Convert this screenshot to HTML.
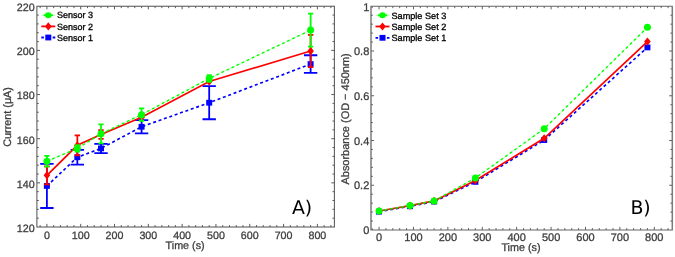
<!DOCTYPE html>
<html><head><meta charset="utf-8"><title>Sensor current and absorbance vs time</title>
<style>
html,body{margin:0;padding:0;background:#fff;}
body{width:675px;height:257px;overflow:hidden;}
svg{display:block;will-change:transform;}
text{font-family:"Liberation Sans",sans-serif;text-rendering:geometricPrecision;}
.t{fill:#3c3c3c;stroke:#3c3c3c;stroke-width:0.28px;}
.big{font-family:"DejaVu Sans",sans-serif;}
</style></head><body>
<svg width="675" height="257" viewBox="0 0 675 257">
<rect width="675" height="257" fill="#fff"/>
<g id="plotA">
<polyline points="46.9,185.94 77.33,157.24 101,148.41 141.57,126.78 209.19,102.72 310.62,64.09" fill="none" stroke="#0000ff" stroke-width="1.65" stroke-dasharray="3 2.7"/>
<path d="M46.9 163.87V208.02M40.2 163.87h13.4M40.2 208.02h13.4M77.33 149.96V164.53M70.63 149.96h13.4M70.63 164.53h13.4M101 143.78V153.05M94.3 143.78h13.4M94.3 153.05h13.4M141.57 120.16V133.4M134.87 120.16h13.4M134.87 133.4h13.4M209.19 86.16V119.27M202.49 86.16h13.4M202.49 119.27h13.4M310.62 55.26V72.92M303.92 55.26h13.4M303.92 72.92h13.4" fill="none" stroke="#0000ff" stroke-width="1.8"/>
<rect x="43.9" y="183.04" width="6" height="5.8" fill="#0000ff"/>
<rect x="74.33" y="154.34" width="6" height="5.8" fill="#0000ff"/>
<rect x="98" y="145.51" width="6" height="5.8" fill="#0000ff"/>
<rect x="138.57" y="123.88" width="6" height="5.8" fill="#0000ff"/>
<rect x="206.19" y="99.82" width="6" height="5.8" fill="#0000ff"/>
<rect x="307.62" y="61.19" width="6" height="5.8" fill="#0000ff"/>
<polyline points="46.9,175.34 77.33,145.32 101,134.51 141.57,117.29 209.19,81.53 310.62,51.06" fill="none" stroke="#ff0000" stroke-width="1.7"/>
<path d="M46.9 166.29V184.4M44.2 166.29h5.4M44.2 184.4h5.4M77.33 135.39V155.26M74.63 135.39h5.4M74.63 155.26h5.4M101 130.09V138.92M98.3 130.09h5.4M98.3 138.92h5.4M310.62 34.95V67.18M307.92 34.95h5.4M307.92 67.18h5.4" fill="none" stroke="#ff0000" stroke-width="1.8"/>
<path d="M46.9 171.24L50.2 175.34L46.9 179.44L43.6 175.34Z" fill="#ff0000"/>
<path d="M77.33 141.22L80.63 145.32L77.33 149.42L74.03 145.32Z" fill="#ff0000"/>
<path d="M101 130.41L104.3 134.51L101 138.61L97.7 134.51Z" fill="#ff0000"/>
<path d="M141.57 113.19L144.87 117.29L141.57 121.39L138.27 117.29Z" fill="#ff0000"/>
<path d="M209.19 77.43L212.49 81.53L209.19 85.63L205.89 81.53Z" fill="#ff0000"/>
<path d="M310.62 46.96L313.92 51.06L310.62 55.16L307.32 51.06Z" fill="#ff0000"/>
<polyline points="46.9,161.22 77.33,148.41 101,133.84 141.57,114.64 209.19,78.44 310.62,30.09" fill="none" stroke="#00ff00" stroke-width="0.9" opacity="0.28"/>
<polyline points="46.9,161.22 77.33,148.41 101,133.84 141.57,114.64 209.19,78.44 310.62,30.09" fill="none" stroke="#00ff00" stroke-width="1.4" stroke-dasharray="2.7 2.9"/>
<path d="M46.9 155.81V166.62M44.3 155.81h5.2M44.3 166.62h5.2M77.33 145.1V151.72M74.73 145.1h5.2M74.73 151.72h5.2M101 124.35V143.34M98.4 124.35h5.2M98.4 143.34h5.2M141.57 108.35V120.93M138.97 108.35h5.2M138.97 120.93h5.2M209.19 75.12V81.75M206.59 75.12h5.2M206.59 81.75h5.2M310.62 13.53V46.65M308.02 13.53h5.2M308.02 46.65h5.2" fill="none" stroke="#00ff00" stroke-width="1.8"/>
<circle cx="46.9" cy="161.22" r="3.5" fill="#00ff00"/>
<circle cx="77.33" cy="148.41" r="3.5" fill="#00ff00"/>
<circle cx="101" cy="133.84" r="3.5" fill="#00ff00"/>
<circle cx="141.57" cy="114.64" r="3.5" fill="#00ff00"/>
<circle cx="209.19" cy="78.44" r="3.5" fill="#00ff00"/>
<circle cx="310.62" cy="30.09" r="3.5" fill="#00ff00"/>
<rect x="36.9" y="6.25" width="297.5" height="220.75" fill="none" stroke="#585858" stroke-width="1.05"/>
<path d="M40.14 227v-1.9M40.14 6.25v1.9M46.9 227v-3.1M46.9 6.25v3.1M53.66 227v-1.9M53.66 6.25v1.9M60.42 227v-1.9M60.42 6.25v1.9M67.19 227v-1.9M67.19 6.25v1.9M73.95 227v-1.9M73.95 6.25v1.9M80.71 227v-3.1M80.71 6.25v3.1M87.47 227v-1.9M87.47 6.25v1.9M94.23 227v-1.9M94.23 6.25v1.9M101 227v-1.9M101 6.25v1.9M107.76 227v-1.9M107.76 6.25v1.9M114.52 227v-3.1M114.52 6.25v3.1M121.28 227v-1.9M121.28 6.25v1.9M128.04 227v-1.9M128.04 6.25v1.9M134.81 227v-1.9M134.81 6.25v1.9M141.57 227v-1.9M141.57 6.25v1.9M148.33 227v-3.1M148.33 6.25v3.1M155.09 227v-1.9M155.09 6.25v1.9M161.85 227v-1.9M161.85 6.25v1.9M168.62 227v-1.9M168.62 6.25v1.9M175.38 227v-1.9M175.38 6.25v1.9M182.14 227v-3.1M182.14 6.25v3.1M188.9 227v-1.9M188.9 6.25v1.9M195.66 227v-1.9M195.66 6.25v1.9M202.43 227v-1.9M202.43 6.25v1.9M209.19 227v-1.9M209.19 6.25v1.9M215.95 227v-3.1M215.95 6.25v3.1M222.71 227v-1.9M222.71 6.25v1.9M229.47 227v-1.9M229.47 6.25v1.9M236.24 227v-1.9M236.24 6.25v1.9M243 227v-1.9M243 6.25v1.9M249.76 227v-3.1M249.76 6.25v3.1M256.52 227v-1.9M256.52 6.25v1.9M263.28 227v-1.9M263.28 6.25v1.9M270.05 227v-1.9M270.05 6.25v1.9M276.81 227v-1.9M276.81 6.25v1.9M283.57 227v-3.1M283.57 6.25v3.1M290.33 227v-1.9M290.33 6.25v1.9M297.09 227v-1.9M297.09 6.25v1.9M303.86 227v-1.9M303.86 6.25v1.9M310.62 227v-1.9M310.62 6.25v1.9M317.38 227v-3.1M317.38 6.25v3.1M324.14 227v-1.9M324.14 6.25v1.9M330.9 227v-1.9M330.9 6.25v1.9M36.9 218.17h1.9M334.4 218.17h-1.9M36.9 209.34h1.9M334.4 209.34h-1.9M36.9 200.51h1.9M334.4 200.51h-1.9M36.9 191.68h1.9M334.4 191.68h-1.9M36.9 182.85h3.1M334.4 182.85h-3.1M36.9 174.02h1.9M334.4 174.02h-1.9M36.9 165.19h1.9M334.4 165.19h-1.9M36.9 156.36h1.9M334.4 156.36h-1.9M36.9 147.53h1.9M334.4 147.53h-1.9M36.9 138.7h3.1M334.4 138.7h-3.1M36.9 129.87h1.9M334.4 129.87h-1.9M36.9 121.04h1.9M334.4 121.04h-1.9M36.9 112.21h1.9M334.4 112.21h-1.9M36.9 103.38h1.9M334.4 103.38h-1.9M36.9 94.55h3.1M334.4 94.55h-3.1M36.9 85.72h1.9M334.4 85.72h-1.9M36.9 76.89h1.9M334.4 76.89h-1.9M36.9 68.06h1.9M334.4 68.06h-1.9M36.9 59.23h1.9M334.4 59.23h-1.9M36.9 50.4h3.1M334.4 50.4h-3.1M36.9 41.57h1.9M334.4 41.57h-1.9M36.9 32.74h1.9M334.4 32.74h-1.9M36.9 23.91h1.9M334.4 23.91h-1.9M36.9 15.08h1.9M334.4 15.08h-1.9" fill="none" stroke="#5a5a5a" stroke-width="1.0"/>
<line x1="41.3" y1="15.2" x2="55.3" y2="15.2" stroke="#00ff00" stroke-width="1" opacity="0.3"/>
<line x1="43.7" y1="15.2" x2="52.9" y2="15.2" stroke="#00ff00" stroke-width="1.8"/>
<ellipse cx="48.3" cy="15.2" rx="3.3" ry="3.05" fill="#00ff00"/>
<text x="57" y="18.4" font-size="9" fill="#000" stroke="#000" stroke-width="0.3">Sensor 3</text>
<line x1="41.3" y1="26.4" x2="55.3" y2="26.4" stroke="#ff0000" stroke-width="1.8"/>
<path d="M48.3 22.3L51.6 26.4L48.3 30.5L45 26.4Z" fill="#ff0000"/>
<text x="57" y="29.6" font-size="9" fill="#000" stroke="#000" stroke-width="0.3">Sensor 2</text>
<path d="M41.3 37.5h2.6M52.7 37.5h2.6" stroke="#0000ff" stroke-width="1.8" fill="none"/>
<rect x="45.3" y="34.6" width="6" height="5.8" fill="#0000ff"/>
<text x="57" y="40.7" font-size="9" fill="#000" stroke="#000" stroke-width="0.3">Sensor 1</text>
<text x="34.6" y="231.8" font-size="10.7" class="t" text-anchor="end">120</text>
<text x="34.6" y="187.65" font-size="10.7" class="t" text-anchor="end">140</text>
<text x="34.6" y="143.5" font-size="10.7" class="t" text-anchor="end">160</text>
<text x="34.6" y="99.35" font-size="10.7" class="t" text-anchor="end">180</text>
<text x="34.6" y="55.2" font-size="10.7" class="t" text-anchor="end">200</text>
<text x="34.6" y="11.05" font-size="10.7" class="t" text-anchor="end">220</text>
<text x="46.9" y="239.2" font-size="10.7" class="t" text-anchor="middle">0</text>
<text x="80.71" y="239.2" font-size="10.7" class="t" text-anchor="middle">100</text>
<text x="114.52" y="239.2" font-size="10.7" class="t" text-anchor="middle">200</text>
<text x="148.33" y="239.2" font-size="10.7" class="t" text-anchor="middle">300</text>
<text x="182.14" y="239.2" font-size="10.7" class="t" text-anchor="middle">400</text>
<text x="215.95" y="239.2" font-size="10.7" class="t" text-anchor="middle">500</text>
<text x="249.76" y="239.2" font-size="10.7" class="t" text-anchor="middle">600</text>
<text x="283.57" y="239.2" font-size="10.7" class="t" text-anchor="middle">700</text>
<text x="317.38" y="239.2" font-size="10.7" class="t" text-anchor="middle">800</text>
<text x="165.6" y="248.6" font-size="10.8" class="t" textLength="39" lengthAdjust="spacingAndGlyphs">Time (s)</text>
<text transform="translate(11.4 146.7) rotate(-90)" font-size="10.9" class="t" textLength="59.6" lengthAdjust="spacingAndGlyphs">Current (μA)</text>
<text class="big" x="291.9" y="214.1" font-size="18.9" fill="#000">A)</text>
</g>
<g id="plotB">
<polyline points="379.05,211.65 410.02,206.28 434.1,201.58 475.39,181.89 544.2,140.05 647.42,47.42" fill="none" stroke="#0000ff" stroke-width="1.65" stroke-dasharray="3 2.7"/>
<rect x="376.05" y="208.75" width="6" height="5.8" fill="#0000ff"/>
<rect x="407.02" y="203.38" width="6" height="5.8" fill="#0000ff"/>
<rect x="431.1" y="198.68" width="6" height="5.8" fill="#0000ff"/>
<rect x="472.39" y="178.99" width="6" height="5.8" fill="#0000ff"/>
<rect x="541.2" y="137.15" width="6" height="5.8" fill="#0000ff"/>
<rect x="644.42" y="44.52" width="6" height="5.8" fill="#0000ff"/>
<polyline points="379.05,210.98 410.02,205.61 434.1,200.91 475.39,180.55 544.2,138.26 647.42,41.6" fill="none" stroke="#ff0000" stroke-width="1.7"/>
<path d="M379.05 206.88L382.35 210.98L379.05 215.08L375.75 210.98Z" fill="#ff0000"/>
<path d="M410.02 201.51L413.32 205.61L410.02 209.71L406.72 205.61Z" fill="#ff0000"/>
<path d="M434.1 196.81L437.4 200.91L434.1 205.01L430.8 200.91Z" fill="#ff0000"/>
<path d="M475.39 176.45L478.69 180.55L475.39 184.65L472.09 180.55Z" fill="#ff0000"/>
<path d="M544.2 134.16L547.5 138.26L544.2 142.36L540.9 138.26Z" fill="#ff0000"/>
<path d="M647.42 37.5L650.72 41.6L647.42 45.7L644.12 41.6Z" fill="#ff0000"/>
<polyline points="379.05,210.98 410.02,205.61 434.1,200.91 475.39,177.98 544.2,128.75 647.42,27.28" fill="none" stroke="#00ff00" stroke-width="0.9" opacity="0.28"/>
<polyline points="379.05,210.98 410.02,205.61 434.1,200.91 475.39,177.98 544.2,128.75 647.42,27.28" fill="none" stroke="#00ff00" stroke-width="1.4" stroke-dasharray="2.7 2.9"/>
<circle cx="379.05" cy="210.98" r="3.5" fill="#00ff00"/>
<circle cx="410.02" cy="205.61" r="3.5" fill="#00ff00"/>
<circle cx="434.1" cy="200.91" r="3.5" fill="#00ff00"/>
<circle cx="475.39" cy="177.98" r="3.5" fill="#00ff00"/>
<circle cx="544.2" cy="128.75" r="3.5" fill="#00ff00"/>
<circle cx="647.42" cy="27.28" r="3.5" fill="#00ff00"/>
<path d="M370.4 6.25H672.9M370.4 230H672.9" stroke="#5c5c5c" stroke-width="0.95" fill="none"/>
<path d="M371 6.25V230M672.3 6.25V230" stroke="#7c7c7c" stroke-width="1.5" fill="none"/>
<path d="M372.17 230v-1.9M372.17 6.25v1.9M379.05 230v-3.1M379.05 6.25v3.1M385.93 230v-1.9M385.93 6.25v1.9M392.81 230v-1.9M392.81 6.25v1.9M399.69 230v-1.9M399.69 6.25v1.9M406.57 230v-1.9M406.57 6.25v1.9M413.46 230v-3.1M413.46 6.25v3.1M420.34 230v-1.9M420.34 6.25v1.9M427.22 230v-1.9M427.22 6.25v1.9M434.1 230v-1.9M434.1 6.25v1.9M440.98 230v-1.9M440.98 6.25v1.9M447.86 230v-3.1M447.86 6.25v3.1M454.74 230v-1.9M454.74 6.25v1.9M461.62 230v-1.9M461.62 6.25v1.9M468.51 230v-1.9M468.51 6.25v1.9M475.39 230v-1.9M475.39 6.25v1.9M482.27 230v-3.1M482.27 6.25v3.1M489.15 230v-1.9M489.15 6.25v1.9M496.03 230v-1.9M496.03 6.25v1.9M502.91 230v-1.9M502.91 6.25v1.9M509.79 230v-1.9M509.79 6.25v1.9M516.67 230v-3.1M516.67 6.25v3.1M523.56 230v-1.9M523.56 6.25v1.9M530.44 230v-1.9M530.44 6.25v1.9M537.32 230v-1.9M537.32 6.25v1.9M544.2 230v-1.9M544.2 6.25v1.9M551.08 230v-3.1M551.08 6.25v3.1M557.96 230v-1.9M557.96 6.25v1.9M564.84 230v-1.9M564.84 6.25v1.9M571.72 230v-1.9M571.72 6.25v1.9M578.6 230v-1.9M578.6 6.25v1.9M585.49 230v-3.1M585.49 6.25v3.1M592.37 230v-1.9M592.37 6.25v1.9M599.25 230v-1.9M599.25 6.25v1.9M606.13 230v-1.9M606.13 6.25v1.9M613.01 230v-1.9M613.01 6.25v1.9M619.89 230v-3.1M619.89 6.25v3.1M626.77 230v-1.9M626.77 6.25v1.9M633.65 230v-1.9M633.65 6.25v1.9M640.54 230v-1.9M640.54 6.25v1.9M647.42 230v-1.9M647.42 6.25v1.9M654.3 230v-3.1M654.3 6.25v3.1M661.18 230v-1.9M661.18 6.25v1.9M668.06 230v-1.9M668.06 6.25v1.9M371 221.05h1.9M672.3 221.05h-1.9M371 212.1h1.9M672.3 212.1h-1.9M371 203.15h1.9M672.3 203.15h-1.9M371 194.2h1.9M672.3 194.2h-1.9M371 185.25h3.1M672.3 185.25h-3.1M371 176.3h1.9M672.3 176.3h-1.9M371 167.35h1.9M672.3 167.35h-1.9M371 158.4h1.9M672.3 158.4h-1.9M371 149.45h1.9M672.3 149.45h-1.9M371 140.5h3.1M672.3 140.5h-3.1M371 131.55h1.9M672.3 131.55h-1.9M371 122.6h1.9M672.3 122.6h-1.9M371 113.65h1.9M672.3 113.65h-1.9M371 104.7h1.9M672.3 104.7h-1.9M371 95.75h3.1M672.3 95.75h-3.1M371 86.8h1.9M672.3 86.8h-1.9M371 77.85h1.9M672.3 77.85h-1.9M371 68.9h1.9M672.3 68.9h-1.9M371 59.95h1.9M672.3 59.95h-1.9M371 51h3.1M672.3 51h-3.1M371 42.05h1.9M672.3 42.05h-1.9M371 33.1h1.9M672.3 33.1h-1.9M371 24.15h1.9M672.3 24.15h-1.9M371 15.2h1.9M672.3 15.2h-1.9" fill="none" stroke="#606060" stroke-width="1.0"/>
<line x1="375.5" y1="15.3" x2="389.5" y2="15.3" stroke="#00ff00" stroke-width="1" opacity="0.3"/>
<line x1="377.9" y1="15.3" x2="387.1" y2="15.3" stroke="#00ff00" stroke-width="1.8"/>
<ellipse cx="382.5" cy="15.3" rx="3.3" ry="3.05" fill="#00ff00"/>
<text x="391.5" y="18.5" font-size="9.15" fill="#000" stroke="#000" stroke-width="0.3">Sample Set 3</text>
<line x1="375.5" y1="26.5" x2="389.5" y2="26.5" stroke="#ff0000" stroke-width="1.8"/>
<path d="M382.5 22.4L385.8 26.5L382.5 30.6L379.2 26.5Z" fill="#ff0000"/>
<text x="391.5" y="29.7" font-size="9.15" fill="#000" stroke="#000" stroke-width="0.3">Sample Set 2</text>
<path d="M375.5 37.8h2.6M386.9 37.8h2.6" stroke="#0000ff" stroke-width="1.8" fill="none"/>
<rect x="379.5" y="34.9" width="6" height="5.8" fill="#0000ff"/>
<text x="391.5" y="41" font-size="9.15" fill="#000" stroke="#000" stroke-width="0.3">Sample Set 1</text>
<text x="369.3" y="234.1" font-size="11.0" class="t" text-anchor="end">0</text>
<text x="369.3" y="189.35" font-size="11.0" class="t" text-anchor="end">0.2</text>
<text x="369.3" y="144.6" font-size="11.0" class="t" text-anchor="end">0.4</text>
<text x="369.3" y="99.85" font-size="11.0" class="t" text-anchor="end">0.6</text>
<text x="369.3" y="55.1" font-size="11.0" class="t" text-anchor="end">0.8</text>
<text x="369.3" y="11.05" font-size="11.0" class="t" text-anchor="end">1</text>
<text x="379.05" y="241.3" font-size="11.0" class="t" text-anchor="middle">0</text>
<text x="413.46" y="241.3" font-size="11.0" class="t" text-anchor="middle">100</text>
<text x="447.86" y="241.3" font-size="11.0" class="t" text-anchor="middle">200</text>
<text x="482.27" y="241.3" font-size="11.0" class="t" text-anchor="middle">300</text>
<text x="516.67" y="241.3" font-size="11.0" class="t" text-anchor="middle">400</text>
<text x="551.08" y="241.3" font-size="11.0" class="t" text-anchor="middle">500</text>
<text x="585.49" y="241.3" font-size="11.0" class="t" text-anchor="middle">600</text>
<text x="619.89" y="241.3" font-size="11.0" class="t" text-anchor="middle">700</text>
<text x="654.3" y="241.3" font-size="11.0" class="t" text-anchor="middle">800</text>
<text x="501.4" y="251.4" font-size="11" class="t" textLength="39.1" lengthAdjust="spacingAndGlyphs">Time (s)</text>
<text transform="translate(348.7 184.5) rotate(-90)" font-size="11" class="t" textLength="131.2" lengthAdjust="spacingAndGlyphs">Absorbance (OD − 450nm)</text>
<text class="big" x="630.4" y="214.1" font-size="18.9" fill="#000">B)</text>
</g>
</svg></body></html>
